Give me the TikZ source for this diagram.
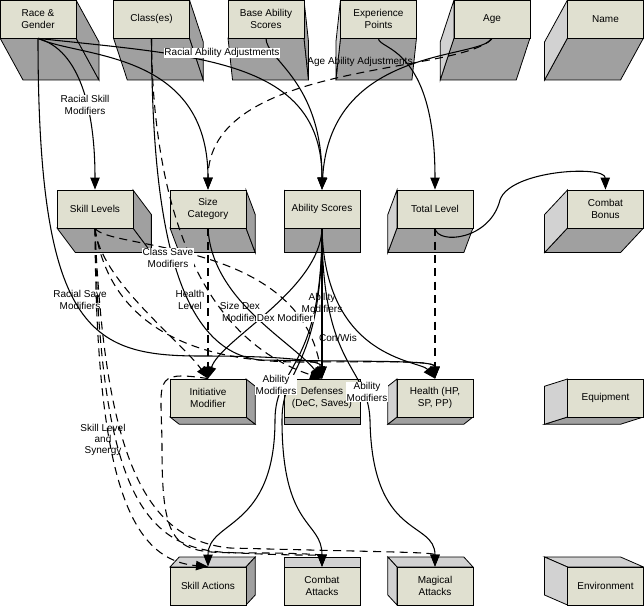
\documentclass[tikz,border=0pt]{standalone}
\usepackage{fontspec}
\setmainfont{Liberation Sans}
\usetikzlibrary{arrows.meta}
\definecolor{frontc}{RGB}{224,224,208}
\definecolor{darkc}{RGB}{160,160,160}
\definecolor{lightc}{RGB}{210,210,210}
\tikzset{
  front/.style={draw=black,line width=0.6pt,fill=frontc,minimum width=57pt,minimum height=28.5pt,inner sep=1pt,align=center,font=\fontsize{7.5}{9}\selectfont},
  dk/.style={draw=black,line width=0.6pt,fill=darkc},
  lt/.style={draw=black,line width=0.6pt,fill=lightc},
  con/.style={line width=0.8pt,-{Triangle[length=9pt,width=7pt]}},
  dcon/.style={con,dash pattern=on 6pt off 4pt},
  lbl/.style={fill=white,inner sep=0.5pt,align=center,font=\fontsize{7.5}{8.5}\selectfont}
}
\newcommand\cube[4]{%
\pgfmathsetmacro\cdx{0.081*(322-#2)}%
\pgfmathsetmacro\cdy{0.0917*(477-#3)}%
\begin{scope}[shift={(#2,#3)}]
\ifdim\cdy pt>0pt \filldraw[dk] (-38,19)--(38,19)--++(\cdx,\cdy)--++(-76,0)--cycle;
\else \filldraw[lt] (-38,-19)--(38,-19)--++(\cdx,\cdy)--++(-76,0)--cycle;\fi
\ifdim\cdx pt>0pt \filldraw[dk] (38,-19)--(38,19)--++(\cdx,\cdy)--++(0,-38)--cycle;
\else \filldraw[lt] (-38,-19)--(-38,19)--++(\cdx,\cdy)--++(0,-38)--cycle;\fi
\end{scope}
\node[front] (#1) at (#2,#3) {#4};}
\begin{document}
\begin{tikzpicture}[x=0.75pt,y=-0.75pt]
\useasboundingbox (0,0) rectangle (644,606);
\cube{race}{38}{19}{Race \&\\Gender}
\cube{class}{151.5}{19}{Class(es)}
\cube{base}{266}{19}{Base Ability\\Scores}
\cube{exp}{378.5}{19}{Experience\\Points}
\cube{age}{492}{19}{Age}
\cube{name}{605.5}{19}{Name}
\cube{skill}{95}{209}{Skill Levels}
\cube{size}{208}{209}{Size\\Category}
\cube{ability}{322}{209}{Ability Scores}
\cube{total}{435}{209}{Total Level}
\cube{cbonus}{605.5}{209}{Combat\\Bonus}
\cube{init}{208}{398}{Initiative\\Modifier}
\cube{def}{322}{398}{Defenses\\(DeC, Saves)}
\cube{health}{435}{398}{Health (HP,\\SP, PP)}
\cube{equip}{605.5}{398}{Equipment}
\cube{skillact}{208}{586}{Skill Actions}
\cube{combat}{322}{586}{Combat\\Attacks}
\cube{magic}{435}{586}{Magical\\Attacks}
\cube{env}{605.5}{586}{Environment}

% top connectors
\draw[con] (race.south) .. controls (80,58) and (208,50) .. (size.north);
\draw[con] (race.south) .. controls (200,56) and (322,60) .. (ability.north);
\draw[con] (race.south) .. controls (80,50) and (95,110) .. (skill.north);
\draw[con] (race.south) .. controls (38,330) and (90,356) .. (200,356) .. controls (280,356) and (322,360) .. (def.north);
\draw[con] (base.south) .. controls (266,60) and (322,80) .. (ability.north);
\draw[con] (age.south) .. controls (480,60) and (330,45) .. (ability.north);
\draw[dcon] (age.south) .. controls (460,75) and (208,60) .. (size.north);
\draw[con] (exp.south) .. controls (378,50) and (435,45) .. (total.north);
\draw[dcon] (class.south) .. controls (152,150) and (175,330) .. (def.north);
\draw[con] (class.south) .. controls (152,200) and (170,350) .. (260,360) .. controls (380,362) and (435,360) .. (health.north);
% middle
\draw[con] (size.south) .. controls (212,300) and (290,340) .. (def.north);
\draw[dcon] (size.south) -- (init.north);
\draw[con] (ability.south) .. controls (320,290) and (220,340) .. (init.north);
\draw[con] (ability.south) -- (def.north);
\draw[con] (ability.south) .. controls (325,360) and (420,360) .. (health.north);
\draw[con] (total.south) .. controls (438,245) and (490,240) .. (500,200) .. controls (510,170) and (605,165) .. (cbonus.north);
\draw[dcon] (total.south) -- (health.north);
\draw[dcon] (skill.south) .. controls (110,250) and (300,240) .. (def.north);
\draw[dcon] (skill.south) .. controls (100,280) and (180,340) .. (init.north);
\draw[dcon] (skill.south) .. controls (110,330) and (200,362) .. (300,362) .. controls (380,362) and (435,360) .. (health.north);
% bottom
\draw[con] (ability.south) .. controls (322,370) and (275,365) .. (275,420) .. controls (275,530) and (208,520) .. (skillact.north);
\draw[con] (ability.south) .. controls (322,370) and (282,365) .. (282,420) .. controls (282,530) and (322,520) .. (combat.north);
\draw[con] (ability.south) .. controls (322,370) and (368,365) .. (370,420) .. controls (372,540) and (435,520) .. (magic.north);
\draw[dcon] (skill.south) .. controls (96,480) and (130,560) .. (skillact.north);
\draw[dcon] (skill.south) .. controls (100,480) and (140,545) .. (220,552) .. controls (290,556) and (322,555) .. (combat.north);
\draw[dcon] (skill.south) .. controls (105,470) and (150,540) .. (230,548) .. controls (380,552) and (435,552) .. (magic.north);
\draw[dcon] (init.north) .. controls (150,370) and (162,380) .. (162,450) .. controls (162,560) and (180,552) .. (260,553) .. controls (300,553) and (322,555) .. (combat.north);

% labels
\node[lbl] (l1) at (222,53) {Racial Ability Adjustments};
\node[lbl,fill=none] (l2) at (360,62) {Age Ability Adjustments};
\node[lbl] (l3) at (85,105) {Racial Skill\\Modifiers};
\node[lbl,fill=none] (l4) at (80,300) {Racial Save\\Modifiers};
\node[lbl] (l5) at (168,258) {Class Save\\Modifiers};
\node[lbl,fill=none] (l6) at (190,300) {Health\\Level};
\node[lbl,fill=none] (l7) at (240,312) {Size Dex\\Modifier};
\node[lbl] (l8) at (285,318) {Dex Modifier};
\node[lbl,fill=none] (l9) at (322,303) {Ability\\Modifiers};
\node[lbl,fill=none] (l10) at (338,338) {Con/Wis};
\node[lbl,fill=none] (l11) at (103,440) {Skill Level\\and\\Synergy};
\node[lbl] (l12) at (276,385) {Ability\\Modifiers};
\node[lbl] (l13) at (367,392) {Ability\\Modifiers};
\end{tikzpicture}
\end{document}
